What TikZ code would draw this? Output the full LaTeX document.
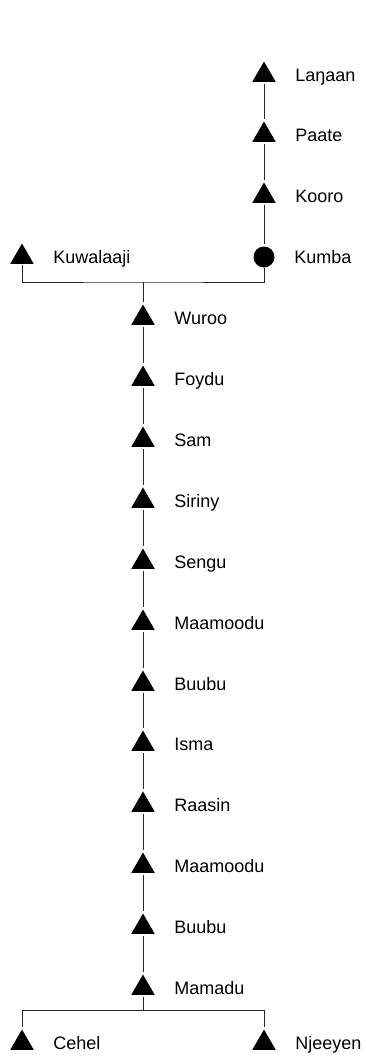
\documentclass[tikz,border=0pt]{standalone}
\usepackage{fontspec}
\setmainfont{Liberation Sans}
\usetikzlibrary{shapes.geometric}

\begin{document}
\begin{tikzpicture}[
    x=1pt, y=1pt,
    male/.style={regular polygon, regular polygon sides=3, minimum size=27pt,
                 inner sep=0pt, fill=black},
    female/.style={circle, minimum size=21pt, inner sep=0pt, fill=black},
    every label/.style={font=\fontsize{18}{20}\selectfont, inner sep=0pt,
                        text height=13pt, text depth=0pt, xshift=23.2pt},
    link/.style={draw=black!85, line width=0.9pt, shorten <=2pt, shorten >=2pt}
  ]
  \useasboundingbox (0,0) rectangle (366,-1061);

  % mother's line
  \node[male, label=right:Laŋaan] (lanaan) at (264,-75) {};
  \node[male, label=right:Paate] (paate) at (264,-135) {};
  \node[male, label=right:Kooro] (kooro) at (264,-196) {};
  \node[female, label={[xshift=-3.7pt]right:Kumba}] (kumba) at (264,-257) {};
  \node[male, label=right:Kuwalaaji] (kuwalaaji) at (22,-257) {};
  \coordinate (union) at (143,-282);

  % descendants
  \node[male, label=right:Wuroo] (wuroo) at (143,-318) {};
  \node[male, label=right:Foydu] (foydu) at (143,-379) {};
  \node[male, label=right:Sam] (sam) at (143,-440) {};
  \node[male, label=right:Siriny] (siriny) at (143,-501) {};
  \node[male, label=right:Sengu] (sengu) at (143,-562) {};
  \node[male, label=right:Maamoodu] (maamoodu) at (143,-623) {};
  \node[male, label=right:Buubu] (buubu) at (143,-684) {};
  \node[male, label=right:Isma] (isma) at (143,-744) {};
  \node[male, label=right:Raasin] (raasin) at (143,-805) {};
  \node[male, label=right:Maamoodu] (maamoodub) at (143,-866) {};
  \node[male, label=right:Buubu] (buubub) at (143,-927) {};
  \node[male, label=right:Mamadu] (mamadu) at (143,-988) {};
  \coordinate (sibs) at (143,-1010);
  \node[male, label=right:Cehel] (cehel) at (22,-1043) {};
  \node[male, label=right:Njeeyen] (njeeyen) at (264,-1043) {};

  \draw[link] (lanaan) -- (paate);
  \draw[link] (paate) -- (kooro);
  \draw[link] (kooro) -- (kumba);
  \draw[link, shorten <=1pt, shorten >=0pt] (kuwalaaji) |- (union) -| (kumba);
  \draw[link, shorten <=0pt] (union) -- (wuroo);
  \draw[link] (wuroo) -- (foydu);
  \draw[link] (foydu) -- (sam);
  \draw[link] (sam) -- (siriny);
  \draw[link] (siriny) -- (sengu);
  \draw[link] (sengu) -- (maamoodu);
  \draw[link] (maamoodu) -- (buubu);
  \draw[link] (buubu) -- (isma);
  \draw[link] (isma) -- (raasin);
  \draw[link] (raasin) -- (maamoodub);
  \draw[link] (maamoodub) -- (buubub);
  \draw[link] (buubub) -- (mamadu);
  \draw[link, shorten >=0pt] (mamadu) -- (sibs);
  \draw[link] (cehel) |- (sibs) -| (njeeyen);
\end{tikzpicture}
\end{document}
